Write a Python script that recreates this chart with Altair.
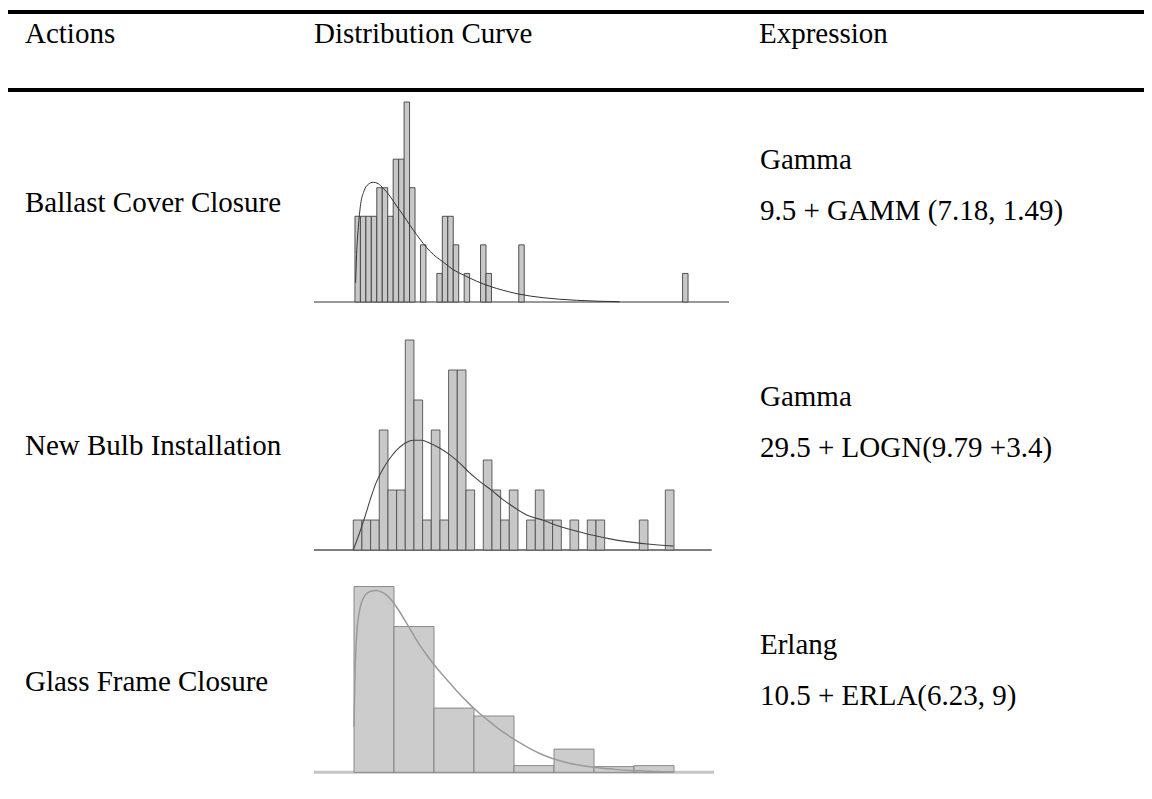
import altair as alt
import pandas as pd

# ---------------- data ----------------
# Panel 1: Ballast Cover Closure (histogram bin index -> count)
bins1 = [0, 1, 2, 3, 4, 5, 6, 7, 8, 9, 10, 12, 15, 16, 17, 18, 20, 23, 24, 30, 60]
counts1 = [3, 3, 3, 3, 4, 4, 3, 5, 5, 7, 4, 2, 1, 3, 3, 2, 1, 2, 1, 2, 1]
curve1_x = [0.12, 0.30, 0.61, 1.04, 1.65, 2.44, 3.35, 4.27, 5.18, 6.40, 7.62, 8.84,
            10.06, 11.28, 12.50, 13.72, 14.94, 16.16, 17.99, 19.94, 22.26, 24.70,
            27.13, 29.94, 34.45, 40.55, 48.48]
curve1_y = [0.67, 1.66, 2.60, 3.42, 3.88, 4.12, 4.19, 4.14, 3.98, 3.71, 3.36, 3.04,
            2.69, 2.36, 2.05, 1.78, 1.57, 1.40, 1.13, 0.94, 0.73, 0.55,
            0.41, 0.28, 0.15, 0.06, 0.01]

# Panel 2: New Bulb Installation
bins2 = [0, 1, 2, 3, 4, 5, 6, 7, 8, 9, 10, 11, 12, 13, 15, 16, 17, 18, 20, 21, 22,
         23, 25, 27, 28, 33, 36]
counts2 = [1, 1, 1, 4, 2, 2, 7, 5, 1, 4, 1, 6, 6, 2, 3, 2, 1, 2, 1, 2, 1,
           1, 1, 1, 1, 1, 2]
curve2_x = [0.0, 0.77, 1.35, 2.00, 2.69, 3.46, 4.23, 5.00, 5.96, 6.92, 7.88, 8.85,
            10.0, 11.15, 12.31, 13.46, 14.62, 16.0, 17.31, 18.46, 20.0, 22.0,
            23.85, 25.77, 27.69, 29.62, 31.54, 34.0, 36.92]
curve2_y = [0.0, 0.61, 1.11, 1.72, 2.28, 2.72, 3.06, 3.33, 3.56, 3.66, 3.66, 3.56,
            3.39, 3.17, 2.89, 2.56, 2.28, 1.98, 1.67, 1.44, 1.17, 0.98,
            0.78, 0.63, 0.49, 0.37, 0.28, 0.20, 0.13]

# Panel 3: Glass Frame Closure (relative frequency)
bins3 = [0, 1, 2, 3, 4, 5, 6, 7]
freq3 = [0.376, 0.295, 0.130, 0.114, 0.0135, 0.047, 0.0115, 0.0135]
curve3_x = [0.0, 0.025, 0.067, 0.15, 0.275, 0.40, 0.567, 0.733, 0.90, 1.10, 1.35,
            1.60, 1.85, 2.10, 2.35, 2.60, 2.85, 3.10, 3.35, 3.60, 3.85,
            4.10, 4.40, 4.70, 5.00, 5.30, 5.60, 6.00, 6.40, 6.80, 7.20,
            7.60, 7.983]
curve3_y = [0.092, 0.197, 0.278, 0.332, 0.358, 0.366, 0.368, 0.363, 0.352, 0.330, 0.297,
            0.263, 0.234, 0.208, 0.185, 0.162, 0.141, 0.122, 0.105, 0.089, 0.075,
            0.062, 0.048, 0.036, 0.027, 0.020, 0.015, 0.010, 0.007, 0.004, 0.003,
            0.0015, 0.001]

headers = ["Actions", "Distribution Curve", "Expression"]
actions = ["Ballast Cover Closure", "New Bulb Installation", "Glass Frame Closure"]
dist_names = ["Gamma", "Gamma", "Erlang"]
expressions = ["9.5 + GAMM (7.18, 1.49)", "29.5 + LOGN(9.79 +3.4)", "10.5 + ERLA(6.23, 9)"]

# ---------------- layout ----------------
W, H = 1136, 776
FONT = "Liberation Serif"
FS = 29

panels = [
    dict(xd=[-7.5, 68.5], xr=[306, 721], yd=[0, 7], yr=[294, 94],
         fill="#c8c8c8", stroke="#404040", curve="#333333", cw=1.0,
         base="#999999", bw=2),
    dict(xd=[-4.53, 41.35], xr=[306, 703.7], yd=[0, 7], yr=[542, 332],
         fill="#c8c8c8", stroke="#505050", curve="#444444", cw=1.1,
         base="#000000", bw=1.2),
    dict(xd=[-1, 9], xr=[306, 706], yd=[0, 0.4], yr=[764.3, 566.7],
         fill="#cccccc", stroke="#808080", curve="#9a9a9a", cw=1.5,
         base="#c4c4c4", bw=3),
]

hist_data = [
    (bins1, counts1, curve1_x, curve1_y),
    (bins2, counts2, curve2_x, curve2_y),
    (bins3, freq3, curve3_x, curve3_y),
]


def panel(p, d):
    b, c, cx, cy = d
    xs = alt.Scale(domain=p["xd"], range=p["xr"], nice=False, zero=False)
    ys = alt.Scale(domain=p["yd"], range=p["yr"], nice=False, zero=False)
    bars_df = pd.DataFrame({"start": b, "end": [v + 1 for v in b], "count": c,
                            "zero": [0] * len(b)})
    curve_df = pd.DataFrame({"x": cx, "y": cy})
    base_df = pd.DataFrame({"x0": [p["xd"][0]], "x1": [p["xd"][1]], "y0": [0]})

    base = alt.Chart(base_df).mark_rule(color=p["base"], strokeWidth=p["bw"]).encode(
        x=alt.X("x0:Q", scale=xs, axis=None),
        x2="x1:Q",
        y=alt.Y("y0:Q", scale=ys, axis=None),
    )
    bars = alt.Chart(bars_df).mark_rect(
        fill=p["fill"], stroke=p["stroke"], strokeWidth=0.9
    ).encode(
        x=alt.X("start:Q", scale=xs, axis=None),
        x2="end:Q",
        y=alt.Y("count:Q", scale=ys, axis=None),
        y2="zero:Q",
    )
    line = alt.Chart(curve_df).mark_line(
        color=p["curve"], strokeWidth=p["cw"], interpolate="monotone"
    ).encode(
        x=alt.X("x:Q", scale=xs, axis=None),
        y=alt.Y("y:Q", scale=ys, axis=None),
    )
    return alt.layer(base, bars, line)


def text(label, x, y):
    return alt.Chart(pd.DataFrame({"t": [label]})).mark_text(
        font=FONT, fontSize=FS, align="left", baseline="alphabetic", color="black"
    ).encode(text="t:N", x=alt.value(x), y=alt.value(y))


def hrule(y):
    return alt.Chart(pd.DataFrame({"a": [0]})).mark_rule(
        color="black", strokeWidth=4
    ).encode(x=alt.value(0), x2=alt.value(W), y=alt.value(y))


layers = [hrule(4), hrule(82)]

header_x = [17, 306, 751]
for h, hx in zip(headers, header_x):
    layers.append(text(h, hx, 35))

action_y = [204, 447, 683]
name_y = [161, 398, 646]
expr_y = [212, 449, 697]
for i in range(3):
    layers.append(text(actions[i], 17, action_y[i]))
    layers.append(text(dist_names[i], 752, name_y[i]))
    layers.append(text(expressions[i], 752, expr_y[i]))

for p, d in zip(panels, hist_data):
    layers.append(panel(p, d))

chart = alt.layer(*layers).resolve_scale(
    x="independent", y="independent"
).properties(
    width=W, height=H, padding=0, autosize="none"
).configure_view(stroke=None)

chart.save("out.html", embed_options={"renderer": "svg", "actions": False})
